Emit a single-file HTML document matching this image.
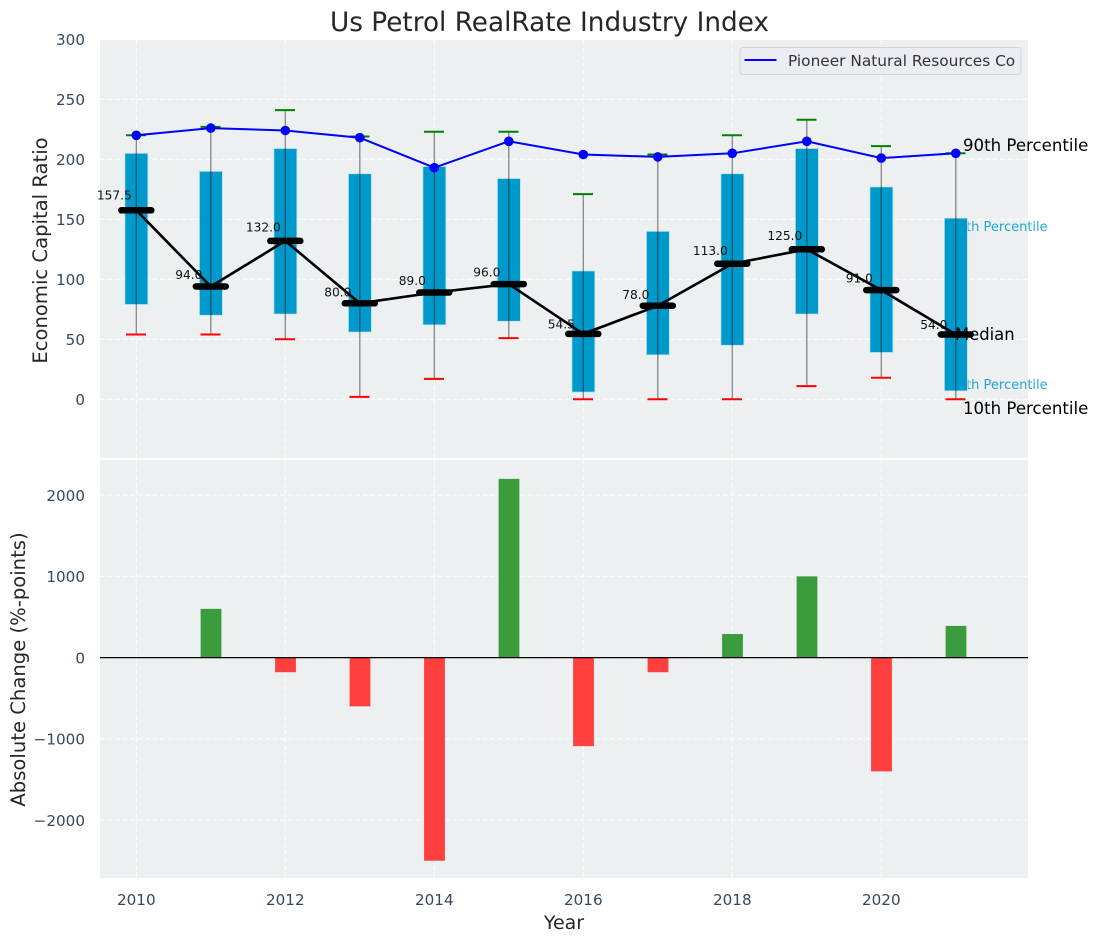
<!DOCTYPE html>
<html lang="en">
<head>
<meta charset="utf-8">
<title>Us Petrol RealRate Industry Index</title>
<style>
html,body{margin:0;padding:0;background:#fff;width:1098px;height:942px;overflow:hidden}
svg{display:block}
text{font-family:"DejaVu Sans","Liberation Sans",sans-serif}
</style>
</head>
<body>
<svg id="chart" xmlns="http://www.w3.org/2000/svg" width="1098" height="942" viewBox="0 0 1098 942"></svg>
<script>
const years = [2010,2011,2012,2013,2014,2015,2016,2017,2018,2019,2020,2021];
const p90 = [220,227,241,219,223,223,171,204,220,233,211,205];
const p75 = [205,190,209,188,194,184,107,140,188,209,177,151];
const medians = [157.5,94,132,80,89,96,54.5,78,113,125,91,54];
const p25 = [79,70,71,56,62,65,6,37,45,71,39,7];
const p10 = [54,54,50,2,17,51,0,0,0,11,18,0];
const company = [220,226,224,218,193,215,204,202,205,215,201,205];
const changes = [0,600,-180,-600,-2500,2200,-1090,-180,290,1000,-1400,390];
const xTicks = [2010,2012,2014,2016,2018,2020];
const topTicks = [0,50,100,150,200,250,300];
const bottomTicks = [-2000,-1000,0,1000,2000];

const svg = document.getElementById('chart');
const NS = 'http://www.w3.org/2000/svg';
const L = 100, R = 1028, T1 = 40, B1 = 458, T2 = 460, B2 = 878;
const TICK = '#34495e', LABEL = '#262626', BOX = '#0099cc';

function xS(v){ return 136.3 + (v - 2010) * 74.5; }
function yTop(v){ return 399.3 - v * 1.2; }
function yBot(v){ return 657.6 - v * 0.08125; }

function make(tag, props, text, parent){
  const el = document.createElementNS(NS, tag);
  for (const k in props) el.setAttribute(k, props[k]);
  if (text !== undefined) el.textContent = text;
  (parent || svg).appendChild(el);
  return el;
}
function fmt(v){ return String(v).replace('-', '\u2212'); }
let el;

el = make('rect',{x:L,y:T1,width:R-L,height:B1-T1,fill:'#ecf0f1'});


el = make('rect',{x:L,y:T2,width:R-L,height:B2-T2,fill:'#ecf0f1'});



// grid
xTicks.forEach(function(t){
  el = make('line',{x1:xS(t),x2:xS(t),y1:T1,y2:B1,stroke:'#fff','stroke-width':1.1,'stroke-dasharray':'5 2.5','stroke-opacity':0.85});
  
  
  el = make('line',{x1:xS(t),x2:xS(t),y1:T2,y2:B2,stroke:'#fff','stroke-width':1.1,'stroke-dasharray':'5 2.5','stroke-opacity':0.85});
  
  
  el = make('text',{x:xS(t),y:905,'text-anchor':'middle','font-size':15.2,fill:TICK},String(t));
  
  
});
topTicks.forEach(function(t){
  el = make('line',{x1:L,x2:R,y1:yTop(t),y2:yTop(t),stroke:'#fff','stroke-width':1.1,'stroke-dasharray':'5 2.5','stroke-opacity':0.85});
  
  
  el = make('text',{x:85,y:yTop(t)+5.8,'text-anchor':'end','font-size':15.2,fill:TICK},fmt(t));
  
  
});
bottomTicks.forEach(function(t){
  el = make('line',{x1:L,x2:R,y1:yBot(t),y2:yBot(t),stroke:'#fff','stroke-width':1.1,'stroke-dasharray':'5 2.5','stroke-opacity':0.85});
  
  
  el = make('text',{x:85,y:yBot(t)+5.8,'text-anchor':'end','font-size':15.2,fill:TICK},fmt(t));
  
  
});

// coloured annotations sit beneath the boxes
el = make('text',{x:949.5,y:231,'font-size':13,fill:BOX,'fill-opacity':0.85},'75th Percentile');


el = make('text',{x:949.5,y:389,'font-size':13,fill:BOX,'fill-opacity':0.85},'25th Percentile');



// boxes
years.forEach(function(y,i){
  el = make('rect',{x:xS(y)-11.4,y:yTop(p75[i]),width:23,height:yTop(p25[i])-yTop(p75[i]),fill:BOX,stroke:'#bfe3ef','stroke-width':0.8});
  
  
});
// whiskers and caps
years.forEach(function(y,i){
  el = make('line',{x1:xS(y),x2:xS(y),y1:yTop(p90[i]),y2:yTop(p10[i]),stroke:'#000','stroke-opacity':0.45,'stroke-width':1.3});
  
  
  el = make('line',{x1:xS(y)-10.3,x2:xS(y)+9.7,y1:yTop(p90[i]),y2:yTop(p90[i]),stroke:'#008000','stroke-width':2});
  
  
  el = make('line',{x1:xS(y)-10.3,x2:xS(y)+9.7,y1:yTop(p10[i]),y2:yTop(p10[i]),stroke:'#ff0000','stroke-width':2});
  
  
});

// annotations under the median marks
el = make('text',{x:963,y:151,'font-size':16.6,fill:'#000'},'90th Percentile');


el = make('text',{x:955,y:340,'font-size':16.4,fill:'#000'},'Median');


el = make('text',{x:963,y:414,'font-size':16.6,fill:'#000'},'10th Percentile');



// median line
el = make('polyline',{points:years.map(function(y,i){return xS(y)+','+yTop(medians[i]);}).join(' '),fill:'none',stroke:'#000','stroke-width':2.6});


years.forEach(function(y,i){
  el = make('line',{x1:xS(y)-15,x2:xS(y)+15,y1:yTop(medians[i]),y2:yTop(medians[i]),stroke:'#000','stroke-width':6.5,'stroke-linecap':'round'});
  
  
  el = make('text',{x:xS(y)-22,y:yTop(medians[i])-(2.6+0.053*medians[i]),'text-anchor':'middle','font-size':12.2,fill:'#111'},medians[i].toFixed(1));
  
  
});

// company line
el = make('polyline',{points:years.map(function(y,i){return xS(y)+','+yTop(company[i]);}).join(' '),fill:'none',stroke:'#0000ff','stroke-width':2});


years.forEach(function(y,i){
  el = make('circle',{cx:xS(y),cy:yTop(company[i]),r:4.8,fill:'#0000ff'});
  
  
});

// change bars
years.forEach(function(y,i){
  if (!changes[i]) return;
  const top = Math.min(yBot(changes[i]), yBot(0));
  const h = Math.abs(yBot(changes[i]) - yBot(0));
  el = make('rect',{x:xS(y)-10.2,y:top,width:20.8,height:h,fill:changes[i] > 0 ? '#3b9c3d' : '#ff3e3e'});
  
  
});
el = make('line',{x1:L,x2:R,y1:yBot(0),y2:yBot(0),stroke:'#000','stroke-width':1.2});



// legend
el = make('rect',{x:740,y:47.5,width:281,height:27,rx:3,fill:'#ecedf2',stroke:'#d2d4d8','stroke-width':1});


el = make('line',{x1:744.5,x2:776.5,y1:60,y2:60,stroke:'#0000ff','stroke-width':2});


el = make('text',{x:788,y:66,'font-size':15.35,fill:'#333'},'Pioneer Natural Resources Co');



// titles
el = make('text',{x:549.5,y:31,'text-anchor':'middle','font-size':26.3,fill:LABEL},'Us Petrol RealRate Industry Index');


el = make('text',{x:564,y:929,'text-anchor':'middle','font-size':19,fill:LABEL},'Year');


el = make('text',{transform:'translate(47,250.5) rotate(-90)','text-anchor':'middle','font-size':19.6,fill:LABEL},'Economic Capital Ratio');


el = make('text',{transform:'translate(25,669.5) rotate(-90)','text-anchor':'middle','font-size':19.6,fill:LABEL},'Absolute Change (%-points)');


</script>
</body>
</html>
